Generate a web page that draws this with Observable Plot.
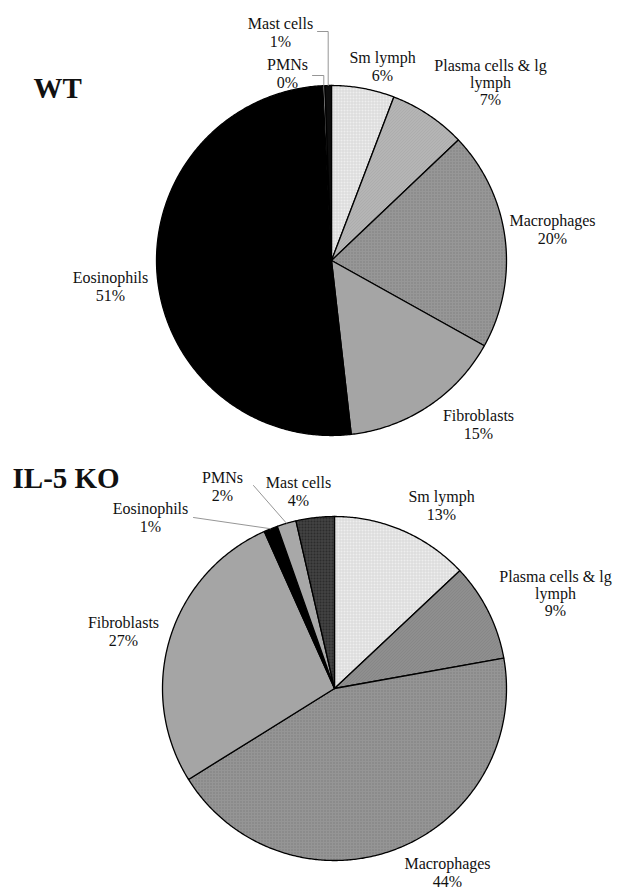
<!DOCTYPE html>
<html>
<head>
<meta charset="utf-8">
<script src="https://cdn.jsdelivr.net/npm/d3@7"></script>
<script src="https://cdn.jsdelivr.net/npm/@observablehq/plot@0.6"></script>
<style>
  html, body { margin: 0; padding: 0; background: #fff; }
  #chart svg { display: block; }
</style>
</head>
<body>
<div id="chart"></div>
<script>
// ---------- DATA ----------
const categories = ["Sm lymph", "Plasma cells & lg lymph", "Macrophages", "Fibroblasts", "Eosinophils", "PMNs", "Mast cells"];
const wtValues = [5.8, 7.1, 20.2, 15.1, 51.0, 0.2, 0.6];
const wtLabels = ["6%", "7%", "20%", "15%", "51%", "0%", "1%"];
const koValues = [13.0, 9.2, 44.0, 27.2, 1.3, 1.8, 3.6];
const koLabels = ["13%", "9%", "44%", "27%", "1%", "2%", "4%"];
const panelTitles = ["WT", "IL-5 KO"];

// ---------- LAYOUT / STYLE ----------
const W = 619, H = 889;
const panels = [
  {
    title: panelTitles[0], values: wtValues, labels: wtLabels,
    cx: 331, cy: 260, r: 175, titleX: 33, titleY: 88,
    fills: ["url(#pSmWT)", "url(#pPlWT)", "url(#pMacWT)", "#a5a5a5", "#000000", "#a8a8a8", "#0d0d0d"],
    labelPos: [[382, 66], [490, 82], [552, 229], [478, 424], [110, 286], [287, 73], [280, 32]],
    leaders: [{i: 5, from: [312, 75], elbow: true}, {i: 6, from: [317, 31], elbow: true}]
  },
  {
    title: panelTitles[1], values: koValues, labels: koLabels,
    cx: 334, cy: 688, r: 172, titleX: 12, titleY: 478,
    fills: ["url(#pSmKO)", "url(#pPlKO)", "url(#pMacKO)", "#a5a5a5", "#000000", "#a8a8a8", "url(#pMastKO)"],
    labelPos: [[441, 505], [555, 593], [447, 872], [123, 631], [150, 517], [222, 486], [298, 491]],
    leaders: [{i: 4, from: [193, 517], elbow: false}, {i: 5, from: [253, 485], elbow: false}]
  }
];

function sliceAngles(values) {
  const total = d3.sum(values);
  let acc = 0;
  return values.map((v, i) => {
    const a0 = acc / total * 2 * Math.PI;
    acc += v;
    const a1 = acc / total * 2 * Math.PI;
    return {i, a0, a1, mid: (a0 + a1) / 2};
  });
}
function polar(p, a) {
  return {x: p.cx + p.r * Math.sin(a), y: p.cy - p.r * Math.cos(a)};
}
function polygon(p, s) {
  const pts = [{x: p.cx, y: p.cy}];
  const n = Math.max(2, Math.ceil((s.a1 - s.a0) / (Math.PI / 360)));
  for (let k = 0; k <= n; k++) pts.push(polar(p, s.a0 + (s.a1 - s.a0) * k / n));
  return pts;
}
function labelText(cat, pct) {
  const name = cat === "Plasma cells & lg lymph" ? "Plasma cells & lg\nlymph" : cat;
  return name + "\n" + pct;
}

const marks = [];
const labelRows = [];
const titleRows = [];
panels.forEach(p => {
  const sl = sliceAngles(p.values);
  sl.forEach(s => {
    marks.push(Plot.line(polygon(p, s), {
      x: "x", y: "y", curve: "linear-closed",
      fill: p.fills[s.i], stroke: "#000", strokeWidth: 1.3, strokeLinejoin: "round"
    }));
  });
  p.leaders.forEach(l => {
    const end = polar(p, sl[l.i].mid);
    const pts = l.elbow
      ? [{x: l.from[0], y: l.from[1]}, {x: end.x, y: l.from[1]}, end]
      : [{x: l.from[0], y: l.from[1]}, end];
    marks.push(Plot.line(pts, {x: "x", y: "y", stroke: "#8a8a8a", strokeWidth: 0.9}));
  });
  categories.forEach((c, i) => {
    labelRows.push({x: p.labelPos[i][0], y: p.labelPos[i][1], text: labelText(c, p.labels[i])});
  });
  titleRows.push({x: p.titleX, y: p.titleY, text: p.title});
});

marks.push(Plot.text(labelRows, {
  x: "x", y: "y", text: "text", textAnchor: "middle", lineAnchor: "middle",
  fontFamily: "Liberation Serif", fontSize: 16, lineHeight: 1.08, fill: "#111"
}));
marks.push(Plot.text(titleRows, {
  x: "x", y: "y", text: "text", textAnchor: "start", lineAnchor: "middle",
  fontFamily: "Liberation Serif", fontSize: 29, fontWeight: "bold", fill: "#111"
}));

const chart = Plot.plot({
  width: W, height: H, margin: 0,
  x: {domain: [0, W], range: [0, W], axis: null},
  y: {domain: [0, H], range: [0, H], axis: null},
  style: {background: "#fff"},
  marks
});

// texture patterns (style only)
const defs = d3.select(chart).insert("defs", ":first-child");
function addPattern(id, bg, fg, kind) {
  const pt = defs.append("pattern").attr("id", id)
    .attr("width", 3).attr("height", 3).attr("patternUnits", "userSpaceOnUse");
  pt.append("rect").attr("width", 3).attr("height", 3).attr("fill", bg);
  if (kind === "dot") pt.append("rect").attr("width", 1).attr("height", 1).attr("fill", fg);
  if (kind === "grid") {
    pt.append("rect").attr("width", 3).attr("height", 0.7).attr("fill", fg);
    pt.append("rect").attr("width", 0.7).attr("height", 3).attr("fill", fg);
  }
  if (kind === "diag") pt.append("path").attr("d", "M0,3L3,0M-1,1L1,-1M2,4L4,2")
    .attr("stroke", fg).attr("stroke-width", 0.7);
}
addPattern("pSmWT", "#eeeeee", "#d2d2d2", "grid");
addPattern("pPlWT", "#bcbcbc", "#909090", "diag");
addPattern("pMacWT", "#979797", "#6f6f6f", "dot");
addPattern("pSmKO", "#eeeeee", "#d2d2d2", "grid");
addPattern("pPlKO", "#969696", "#6c6c6c", "diag");
addPattern("pMacKO", "#959595", "#6d6d6d", "dot");
addPattern("pMastKO", "#2c2c2c", "#505050", "grid");

document.getElementById("chart").append(chart);
</script>
</body>
</html>
